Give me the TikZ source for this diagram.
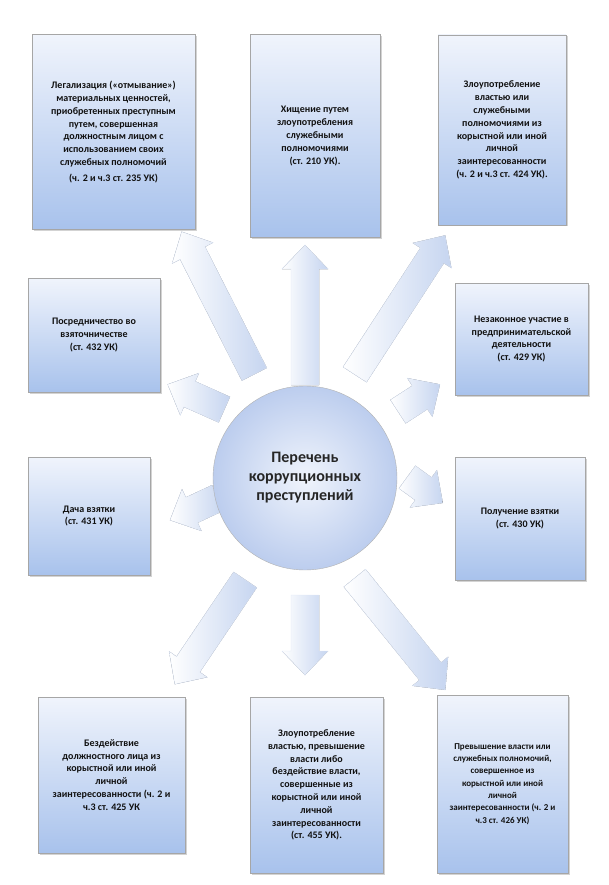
\documentclass[tikz,border=0pt]{standalone}
\usepackage{fontspec}
\setmainfont{Carlito}[BoldFont={Carlito Bold}]
\usetikzlibrary{shadows}
\definecolor{boxtop}{HTML}{F0F4FC}
\definecolor{boxbot}{HTML}{A8C2EC}
\definecolor{arrowc}{HTML}{C6D5F0}
\definecolor{circc}{HTML}{BCCDEE}
\definecolor{txtc}{HTML}{111111}
\newcommand{\blockarrow}[4]{% name, position, angle, length
  \begin{scope}[shift={(#2)}, rotate=#3]
    \coordinate (#1) at (0,0);
    \fill[left color=white, right color=arrowc, draw=arrowc!60!white]
      (-#4/2,-14) -- (#4/2-24,-14) -- (#4/2-24,-23) -- (#4/2,0)
      -- (#4/2-24,23) -- (#4/2-24,14) -- (-#4/2,14) -- cycle;
  \end{scope}}
\begin{document}
\begin{tikzpicture}[x=1pt, y=1pt,
    crime/.style={rectangle, draw=gray!70, top color=boxtop, bottom color=boxbot,
      drop shadow={shadow xshift=1.5pt, shadow yshift=-1.5pt, opacity=0.35},
      align=center, font=\bfseries\fontsize{10}{12.8}\selectfont, text=txtc, inner sep=2pt},
    hub/.style={circle, draw=gray!60, inner color=boxtop, outer color=circc,
      minimum size=184pt, align=center, font=\bfseries\fontsize{16}{19}\selectfont, text=black!85}
  ]
    \useasboundingbox (0,0) rectangle (609,-885);

    % Arrows from the centre
    \blockarrow{a_up}{305,-315}{90}{140}
    \blockarrow{a_ul}{218,-303}{117}{160}
    \blockarrow{a_ur}{400,-305}{57}{166}
    \blockarrow{a_l1}{196,-397}{156}{62}
    \blockarrow{a_l2}{194,-509}{205}{53}
    \blockarrow{a_r1}{419,-398}{33}{50}
    \blockarrow{a_r2}{425,-490}{-36}{44}
    \blockarrow{a_dl}{210,-632}{236}{126}
    \blockarrow{a_dc}{305,-635}{-90}{80}
    \blockarrow{a_dr}{400,-634}{-51}{144}

    % Centre
    \node (hub) [hub] at (305,-478) {Перечень\\коррупционных\\преступлений};

    % Top row
    \node (c_legal) [crime, minimum width=163pt, minimum height=195pt] at (113.5,-132)
      {Легализация («отмывание»)\\материальных ценностей,\\приобретенных преступным\\путем, совершенная\\должностным лицом с\\использованием своих\\служебных полномочий\\[3pt](ч. 2 и ч.3 ст. 235 УК)};
    \node (c_theft) [crime, minimum width=130pt, minimum height=203pt] at (315,-136)
      {Хищение путем\\злоупотребления\\служебными\\полномочиями\\(ст. 210 УК).};
    \node (c_abuse) [crime, minimum width=128pt, minimum height=190pt] at (502,-130)
      {Злоупотребление\\властью или\\служебными\\полномочиями из\\корыстной или иной\\личной\\заинтересованности\\(ч. 2 и ч.3 ст. 424 УК).};

    % Middle rows
    \node (c_mediate) [crime, minimum width=132pt, minimum height=114pt] at (94,-335)
      {Посредничество во\\взяточничестве\\(ст. 432 УК)};
    \node (c_business) [crime, minimum width=133pt, minimum height=112pt] at (521.5,-339)
      {Незаконное участие в\\предпринимательской\\деятельности\\(ст. 429 УК)};
    \node (c_give) [crime, minimum width=122pt, minimum height=118pt] at (89,-516)
      {Дача взятки\\(ст. 431 УК)};
    \node (c_take) [crime, minimum width=130pt, minimum height=123pt] at (520,-518.5)
      {Получение взятки\\(ст. 430 УК)};

    % Bottom row
    \node (c_inaction) [crime, minimum width=147pt, minimum height=156pt] at (111.5,-775)
      {Бездействие\\должностного лица из\\корыстной или иной\\личной\\заинтересованности (ч. 2 и\\ч.3 ст. 425 УК};
    \node (c_power) [crime, minimum width=133pt, minimum height=176pt] at (316.5,-785)
      {Злоупотребление\\властью, превышение\\власти либо\\бездействие власти,\\совершенные из\\корыстной или иной\\личной\\заинтересованности\\(ст. 455 УК).};
    \node (c_excess) [crime, minimum width=131pt, minimum height=178pt, font=\bfseries\fontsize{9}{12.3}\selectfont] at (502.5,-784)
      {Превышение власти или\\служебных полномочий,\\совершенное из\\корыстной или иной\\личной\\заинтересованности (ч. 2 и\\ч.3 ст. 426 УК)};
\end{tikzpicture}
\end{document}
